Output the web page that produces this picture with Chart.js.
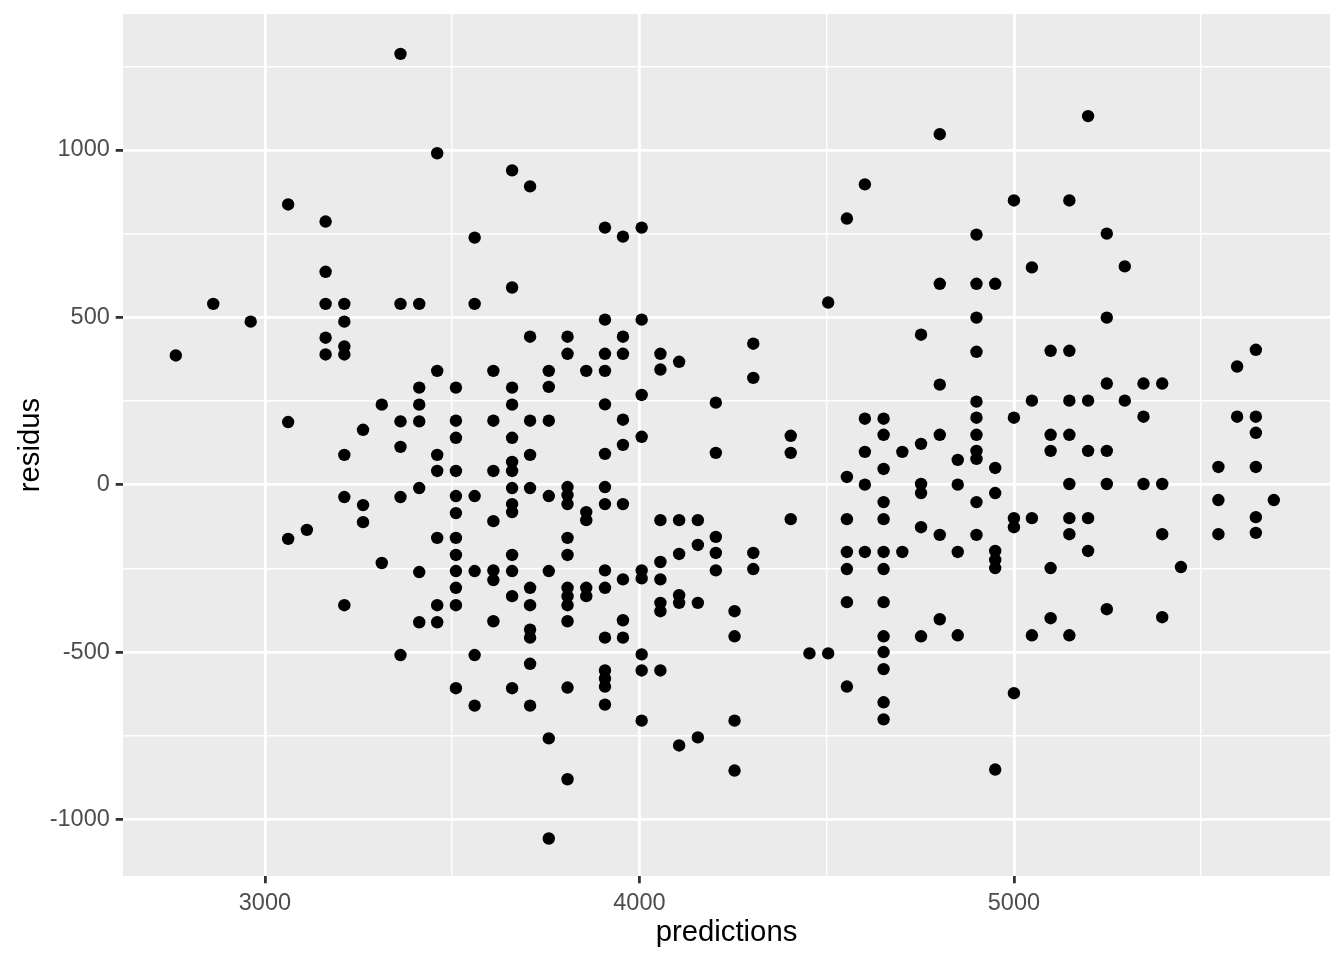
<!DOCTYPE html>
<html>
<head>
<meta charset="utf-8">
<title>residus vs predictions</title>
<script src="https://cdn.jsdelivr.net/npm/chart.js@4"></script>
<style>
  html, body { margin: 0; padding: 0; background: #ffffff; }
  #chart-canvas { display: block; }
</style>
</head>
<body>
<canvas id="chart-canvas" width="1344" height="960"></canvas>
<script>
'use strict';

// predicted values (one entry per vertical column of points)
const predictions = [
  2762, 2862, 2962, 3062, 3112, 3162, 3212, 3262, 3312, 3362,
  3412, 3460, 3510, 3560, 3610, 3660, 3708, 3758, 3808, 3858,
  3908, 3956, 4006, 4056, 4106, 4156, 4204, 4254, 4304, 4404,
  4454, 4504, 4554, 4602, 4652, 4702, 4752, 4802, 4850, 4900,
  4950, 5000, 5048, 5098, 5148, 5198, 5248, 5296, 5346, 5396,
  5446, 5546, 5596, 5646, 5694
];

// residuals observed at each prediction value above
const residus = [
  [386],
  [540],
  [487],
  [837, 187, -162],
  [-135],
  [786, 636, 540, 439, 389],
  [540, 487, 413, 389, 89, -37, -360],
  [164, -61, -112],
  [239, -234],
  [1287, 540, 189, 113, -37, -509],
  [540, 290, 239, 189, -10, -261, -411],
  [990, 340, 89, 41, -159, -360, -411],
  [290, 191, 140, 41, -34, -85, -159, -210, -258, -308, -360, -608],
  [738, 540, -34, -258, -509, -660],
  [340, 191, 41, -109, -256, -285, -408],
  [939, 589, 290, 239, 140, 68, 41, -10, -58, -82, -210, -258, -333, -608],
  [891, 442, 191, 89, -10, -308, -360, -433, -457, -535, -660],
  [340, 292, 191, -34, -258, -758, -1057],
  [442, 391, -7, -31, -58, -159, -210, -308, -333, -360, -408, -606, -880],
  [340, -82, -106, -308, -333],
  [768, 493, 391, 340, 240, 92, -7, -58, -256, -308, -457, -555, -579, -603, -657],
  [741, 442, 391, 194, 119, -58, -283, -405, -457],
  [768, 493, 268, 143, -256, -280, -507, -555, -705],
  [391, 344, -106, -231, -283, -353, -378, -555],
  [367, -106, -207, -330, -353, -779],
  [-106, -180, -353, -755],
  [245, 95, -156, -204, -256],
  [-378, -453, -705, -854],
  [421, 319, -204, -252],
  [146, 95, -103],
  [-504],
  [544, -504],
  [795, 23, -103, -201, -252, -351, -603],
  [897, 197, 98, 0, -201],
  [197, 149, 47, -52, -103, -201, -252, -351, -453, -500, -551, -650, -701],
  [98, -201],
  [448, 122, 2, -25, -127, -453],
  [1047, 600, 299, 149, -150, -402],
  [74, 0, -201, -450],
  [747, 600, 499, 397, 248, 200, 149, 101, 77, -52, -150],
  [600, 50, -25, -198, -225, -249, -851],
  [849, 200, -100, -127, -623],
  [649, 251, -100, -450],
  [400, 149, 101, -249, -399],
  [849, 400, 251, 149, 2, -100, -148, -450],
  [1101, 251, 101, -100, -198],
  [750, 499, 302, 101, 2, -372],
  [652, 251],
  [302, 203, 2],
  [302, 2, -148, -396],
  [-246],
  [53, -46, -148],
  [353, 203],
  [403, 203, 155, 53, -97, -144],
  [-46]
];

// axis ticks: labelled (major) and unlabelled (minor) grid lines
const xMajorTicks = [3000, 4000, 5000];
const xMinorTicks = [3500, 4500, 5500];
const yMajorTicks = [-1000, -500, 0, 500, 1000];
const yMinorTicks = [-750, -250, 250, 750, 1250];

const X_RANGE = [2621, 5844];
const Y_RANGE = [-1169, 1406];

const PANEL_BG = '#EBEBEB';
const TEXT_GREY = '#4D4D4D';
const TICK_GREY = '#333333';
const FONT = '"Liberation Sans", Arial, Helvetica, sans-serif';

const points = predictions.flatMap((x, i) => residus[i].map((y) => ({x: x, y: y})));

/**
 * Paints the grey ggplot-like panel behind the grid.
 */
const panelBackground = {
  id: 'panelBackground',
  beforeDraw(chart) {
    const {ctx, chartArea} = chart;
    ctx.save();
    ctx.fillStyle = PANEL_BG;
    ctx.fillRect(chartArea.left, chartArea.top,
      chartArea.right - chartArea.left, chartArea.bottom - chartArea.top);
    ctx.restore();
  }
};

function axisOptions(range, major, minor, titleText, titlePadding, size, isX) {
  const isMajor = (v) => major.indexOf(v) !== -1;
  return {
    type: 'linear',
    min: range[0],
    max: range[1],
    afterBuildTicks: (scale) => {
      scale.ticks = major.concat(minor)
        .sort((a, b) => a - b)
        .map((v) => ({value: v}));
    },
    afterFit: (scale) => {
      if (isX) {
        scale.height = size;
      } else {
        scale.width = size;
        scale.paddingTop = 0;
        scale.paddingBottom = 0;
      }
    },
    border: {display: false},
    grid: {
      color: '#FFFFFF',
      lineWidth: (c) => (isMajor(c.tick.value) ? 2.8 : 1.4),
      drawTicks: true,
      tickLength: 7.3,
      tickColor: (c) => (isMajor(c.tick.value) ? TICK_GREY : 'rgba(0,0,0,0)'),
      tickWidth: (c) => (isMajor(c.tick.value) ? 2.8 : 0)
    },
    ticks: {
      autoSkip: false,
      maxRotation: 0,
      padding: 5.9,
      color: TEXT_GREY,
      font: {family: FONT, size: 23.5},
      callback: (v) => (isMajor(v) ? String(v) : '')
    },
    title: {
      display: true,
      text: titleText,
      color: '#000000',
      font: {family: FONT, size: 29.3},
      padding: titlePadding
    }
  };
}

new Chart(document.getElementById('chart-canvas'), {
  type: 'scatter',
  data: {
    datasets: [{
      data: points,
      backgroundColor: '#000000',
      borderWidth: 0,
      pointRadius: 6.2,
      pointHoverRadius: 6.2
    }]
  },
  options: {
    responsive: false,
    animation: false,
    devicePixelRatio: 1,
    layout: {padding: {left: 0, top: 14, right: 14, bottom: 0}},
    plugins: {
      legend: {display: false},
      tooltip: {enabled: false}
    },
    scales: {
      x: axisOptions(X_RANGE, xMajorTicks, xMinorTicks, 'predictions',
        {top: 0, bottom: 10}, 84, true),
      y: axisOptions(Y_RANGE, yMajorTicks, yMinorTicks, 'residus',
        {top: 13, bottom: 0}, 123, false)
    }
  },
  plugins: [panelBackground]
});
</script>
</body>
</html>
